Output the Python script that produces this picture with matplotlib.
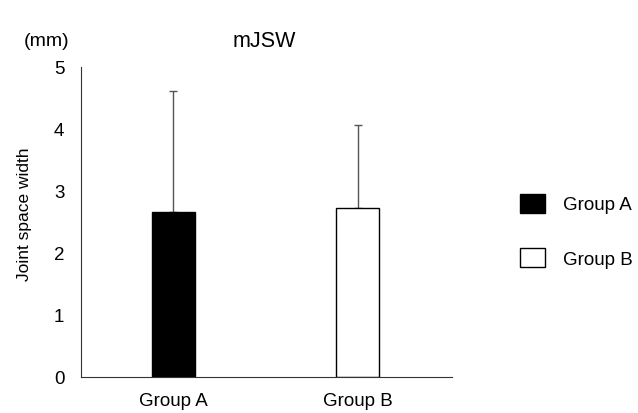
import matplotlib.pyplot as plt
from matplotlib.patches import Patch

plt.rcParams['font.family'] = ['Liberation Sans', 'DejaVu Sans']

groups = ["Group A", "Group B"]
means = [2.66, 2.73]
sds = [1.95, 1.33]
fills = ["black", "white"]

fig = plt.figure(figsize=(6.38, 4.14), dpi=100)
ax = fig.add_axes([0.127, 0.087, 0.581, 0.749])

x = range(len(groups))
ax.bar(x, means, width=0.235, color=fills, edgecolor="black", linewidth=1.0, zorder=2)
ax.errorbar(x, means, yerr=[[0, 0], sds], fmt="none", ecolor="#555555",
            elinewidth=1.0, capsize=3, capthick=1.0, zorder=1)

ax.set_xlim(-0.5, 1.51)
ax.set_ylim(0, 5)
ax.set_xticks(list(x))
ax.set_xticklabels(groups, fontsize=13.5)
ax.set_yticks(range(6))
ax.tick_params(axis="y", labelsize=13.5, length=0, pad=12)
ax.tick_params(axis="x", length=0, pad=11)
for s in ["top", "right"]:
    ax.spines[s].set_visible(False)
ax.spines["left"].set_color("#333333")
ax.spines["bottom"].set_color("#333333")

fig.text(0.038, 0.483, "Joint space width", fontsize=12.5, rotation=90,
         ha="center", va="center")
fig.text(0.073, 0.899, "(mm)", fontsize=14, ha="center", va="center")
fig.text(0.414, 0.9, "mJSW", fontsize=15.5, ha="center", va="center")

handles = [Patch(facecolor=c, edgecolor="black", linewidth=1.0) for c in fills]
fig.legend(handles, groups, loc="center left", bbox_to_anchor=(0.788, 0.44),
           frameon=False, fontsize=13.5, handlelength=1.33, handleheight=1.17,
           labelspacing=1.85, handletextpad=1.0)

fig.savefig("out.png", dpi=100)
